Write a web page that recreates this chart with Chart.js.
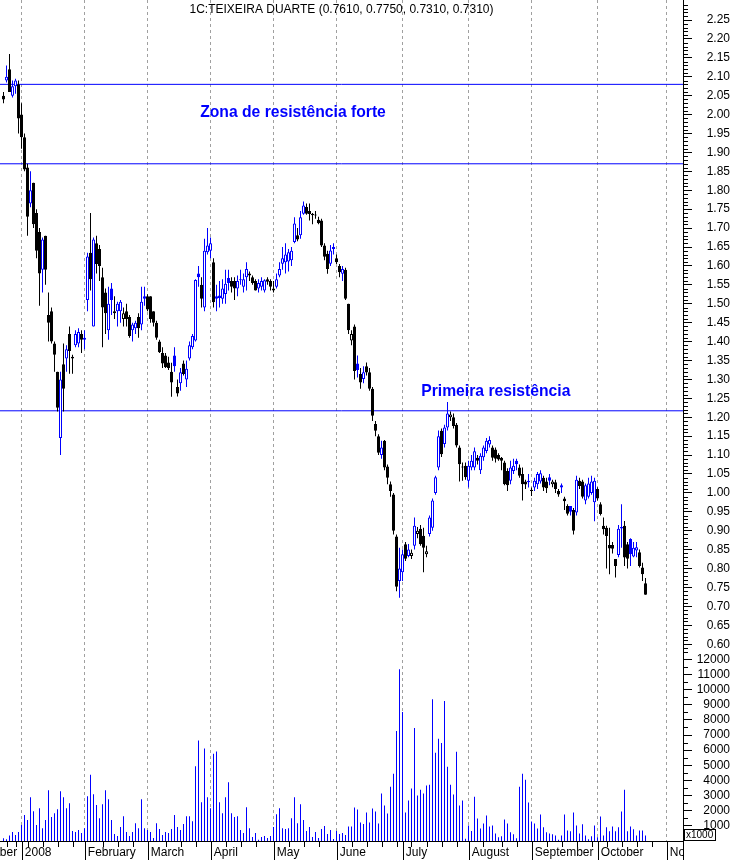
<!DOCTYPE html>
<html>
<head>
<meta charset="utf-8">
<title>1C:TEIXEIRA DUARTE</title>
<script src="https://cdn.jsdelivr.net/npm/chart.js@4.4.1/dist/chart.umd.min.js"></script>
<style>
  body { margin: 0; background: #fff; }
  #wrap { width: 733px; height: 860px; }
</style>
</head>
<body>
<div id="wrap"><canvas id="chart" width="733" height="860"></canvas></div>
<script>
// daily candles, Dec 2007 .. Oct 2008 (index = trading day)
const open = [
  2.05, 2.09, 2.12, 2.05, 2.075, 2.08, 2.00, 1.94, 1.86, 1.765,
  1.82, 1.74, 1.69, 1.59, 1.68, 1.47, 1.48, 1.395, 1.32, 1.145,
  1.34, 1.355, 1.42, 1.355, 1.39, 1.395, 1.42, 1.405, 1.51, 1.635,
  1.44, 1.66, 1.645, 1.57, 1.53, 1.43, 1.54, 1.48, 1.48, 1.48,
  1.46, 1.48, 1.465, 1.43, 1.435, 1.465, 1.445, 1.52, 1.52, 1.52,
  1.48, 1.45, 1.40, 1.37, 1.363, 1.345, 1.32, 1.363, 1.28, 1.29,
  1.342, 1.30, 1.355, 1.385, 1.403, 1.58, 1.55, 1.49, 1.636, 1.64,
  1.61, 1.52, 1.522, 1.513, 1.526, 1.568, 1.56, 1.56, 1.54, 1.565,
  1.545, 1.57, 1.58, 1.57, 1.56, 1.54, 1.545, 1.535, 1.565, 1.56,
  1.535, 1.545, 1.575, 1.606, 1.61, 1.612, 1.615, 1.663, 1.681, 1.681,
  1.738, 1.756, 1.745, 1.738, 1.736, 1.722, 1.72, 1.654, 1.632, 1.606,
  1.65, 1.62, 1.60, 1.579, 1.59, 1.50, 1.403, 1.44, 1.342, 1.314,
  1.301, 1.335, 1.319, 1.275, 1.182, 1.15, 1.10, 1.138, 1.07, 1.023,
  0.996, 0.885, 0.767, 0.79, 0.864, 0.833, 0.833, 0.86, 0.891, 0.905,
  0.887, 0.838, 0.891, 0.908, 1.00, 1.067, 1.164, 1.129, 1.173, 1.20,
  1.20, 1.18, 1.12, 1.07, 1.072, 1.032, 1.067, 1.067, 1.093, 1.06,
  1.094, 1.111, 1.128, 1.12, 1.115, 1.10, 1.093, 1.08, 1.058, 1.032,
  1.058, 1.085, 1.067, 1.05, 1.03, 1.028, 1.008, 1.014, 1.023, 1.03,
  1.04, 1.03, 1.041, 1.023, 1.028, 1.005, 1.02, 0.985, 0.965, 0.965,
  0.955, 0.948, 1.032, 1.03, 0.98, 0.99, 1.00, 0.975, 1.01, 0.97,
  0.913, 0.908, 0.862, 0.862, 0.825, 0.836, 0.906, 0.913, 0.864, 0.878,
  0.832, 0.848, 0.843, 0.803, 0.761
];
const high = [
  2.06, 2.13, 2.16, 2.09, 2.095, 2.09, 2.03, 1.95, 1.87, 1.85,
  1.82, 1.75, 1.70, 1.675, 1.68, 1.53, 1.49, 1.40, 1.32, 1.32,
  1.395, 1.39, 1.44, 1.365, 1.43, 1.435, 1.43, 1.43, 1.635, 1.74,
  1.675, 1.68, 1.655, 1.595, 1.54, 1.545, 1.555, 1.52, 1.505, 1.51,
  1.49, 1.50, 1.47, 1.45, 1.455, 1.475, 1.545, 1.545, 1.525, 1.52,
  1.48, 1.455, 1.405, 1.385, 1.37, 1.36, 1.344, 1.385, 1.30, 1.33,
  1.35, 1.35, 1.40, 1.42, 1.565, 1.60, 1.57, 1.672, 1.70, 1.675,
  1.62, 1.55, 1.56, 1.565, 1.59, 1.59, 1.57, 1.57, 1.575, 1.59,
  1.58, 1.61, 1.585, 1.575, 1.565, 1.565, 1.57, 1.565, 1.57, 1.565,
  1.56, 1.58, 1.61, 1.65, 1.66, 1.645, 1.65, 1.729, 1.70, 1.745,
  1.77, 1.765, 1.765, 1.74, 1.745, 1.73, 1.725, 1.66, 1.64, 1.655,
  1.66, 1.63, 1.605, 1.60, 1.595, 1.50, 1.43, 1.445, 1.363, 1.33,
  1.335, 1.345, 1.33, 1.28, 1.19, 1.155, 1.138, 1.14, 1.075, 1.03,
  1.00, 0.89, 0.855, 0.85, 0.87, 0.865, 0.85, 0.935, 0.91, 0.915,
  0.908, 0.86, 0.94, 0.985, 1.045, 1.165, 1.17, 1.18, 1.24, 1.215,
  1.21, 1.185, 1.125, 1.08, 1.08, 1.085, 1.10, 1.12, 1.10, 1.105,
  1.125, 1.145, 1.15, 1.125, 1.12, 1.105, 1.095, 1.085, 1.065, 1.085,
  1.09, 1.09, 1.075, 1.067, 1.035, 1.05, 1.014, 1.04, 1.055, 1.06,
  1.045, 1.04, 1.05, 1.035, 1.035, 1.01, 1.025, 0.99, 0.97, 0.965,
  0.96, 1.045, 1.04, 1.035, 1.025, 1.04, 1.045, 1.04, 1.015, 0.975,
  0.935, 0.913, 0.908, 0.87, 0.825, 0.915, 0.97, 0.926, 0.87, 0.88,
  0.87, 0.87, 0.85, 0.815, 0.775
];
const low = [
  2.03, 2.085, 2.06, 2.045, 2.055, 1.95, 1.91, 1.85, 1.68, 1.755,
  1.70, 1.62, 1.495, 1.53, 1.55, 1.40, 1.395, 1.32, 1.215, 1.10,
  1.215, 1.32, 1.315, 1.315, 1.385, 1.385, 1.37, 1.38, 1.48, 1.535,
  1.44, 1.58, 1.56, 1.385, 1.42, 1.405, 1.47, 1.46, 1.44, 1.45,
  1.44, 1.44, 1.41, 1.40, 1.42, 1.41, 1.43, 1.495, 1.48, 1.45,
  1.44, 1.405, 1.37, 1.33, 1.33, 1.325, 1.254, 1.32, 1.255, 1.27,
  1.31, 1.28, 1.35, 1.38, 1.40, 1.545, 1.49, 1.48, 1.63, 1.62,
  1.49, 1.48, 1.49, 1.50, 1.50, 1.535, 1.53, 1.51, 1.52, 1.55,
  1.53, 1.535, 1.56, 1.55, 1.535, 1.53, 1.535, 1.53, 1.55, 1.535,
  1.53, 1.54, 1.57, 1.59, 1.58, 1.585, 1.60, 1.66, 1.665, 1.672,
  1.735, 1.735, 1.72, 1.71, 1.725, 1.71, 1.65, 1.615, 1.579, 1.60,
  1.63, 1.605, 1.57, 1.56, 1.51, 1.42, 1.39, 1.30, 1.305, 1.275,
  1.29, 1.31, 1.27, 1.19, 1.15, 1.10, 1.09, 1.06, 1.023, 0.99,
  0.89, 0.74, 0.723, 0.767, 0.82, 0.83, 0.825, 0.85, 0.88, 0.86,
  0.79, 0.83, 0.885, 0.90, 0.995, 1.06, 1.095, 1.12, 1.165, 1.19,
  1.17, 1.12, 1.03, 1.032, 1.035, 1.014, 1.06, 1.06, 1.075, 1.05,
  1.085, 1.105, 1.12, 1.085, 1.08, 1.085, 1.06, 1.02, 1.005, 1.023,
  1.05, 1.06, 1.04, 0.98, 1.01, 1.014, 0.992, 1.005, 1.01, 1.025,
  1.005, 1.00, 1.02, 1.015, 1.00, 0.99, 1.00, 0.955, 0.94, 0.94,
  0.89, 0.94, 1.01, 0.985, 0.97, 0.985, 0.995, 0.925, 0.98, 0.94,
  0.89, 0.80, 0.785, 0.84, 0.776, 0.83, 0.855, 0.807, 0.80, 0.807,
  0.83, 0.83, 0.803, 0.767, 0.731
];
const close = [
  2.04, 2.10, 2.06, 2.075, 2.09, 1.99, 1.94, 1.855, 1.73, 1.80,
  1.71, 1.64, 1.58, 1.67, 1.59, 1.45, 1.40, 1.365, 1.225, 1.30,
  1.275, 1.38, 1.375, 1.36, 1.42, 1.425, 1.405, 1.41, 1.625, 1.565,
  1.67, 1.605, 1.60, 1.49, 1.475, 1.50, 1.51, 1.475, 1.50, 1.505,
  1.475, 1.46, 1.415, 1.445, 1.45, 1.435, 1.505, 1.513, 1.485, 1.46,
  1.45, 1.41, 1.372, 1.342, 1.332, 1.33, 1.292, 1.335, 1.263, 1.319,
  1.314, 1.328, 1.39, 1.415, 1.563, 1.57, 1.513, 1.64, 1.654, 1.66,
  1.504, 1.513, 1.515, 1.54, 1.553, 1.555, 1.545, 1.54, 1.56, 1.562,
  1.565, 1.592, 1.575, 1.555, 1.535, 1.555, 1.56, 1.562, 1.558, 1.545,
  1.54, 1.565, 1.592, 1.62, 1.63, 1.636, 1.64, 1.712, 1.67, 1.729,
  1.76, 1.738, 1.737, 1.734, 1.733, 1.713, 1.654, 1.624, 1.592, 1.641,
  1.645, 1.61, 1.583, 1.592, 1.513, 1.43, 1.42, 1.322, 1.325, 1.292,
  1.319, 1.318, 1.275, 1.204, 1.164, 1.106, 1.12, 1.067, 1.04, 1.005,
  0.90, 0.752, 0.80, 0.838, 0.826, 0.85, 0.842, 0.913, 0.90, 0.864,
  0.855, 0.846, 0.935, 0.98, 1.041, 1.15, 1.102, 1.173, 1.21, 1.207,
  1.177, 1.125, 1.076, 1.067, 1.041, 1.072, 1.085, 1.11, 1.085, 1.098,
  1.12, 1.138, 1.14, 1.093, 1.09, 1.088, 1.085, 1.023, 1.02, 1.067,
  1.072, 1.076, 1.045, 1.023, 1.022, 1.032, 1.005, 1.032, 1.05, 1.052,
  1.014, 1.012, 1.032, 1.03, 1.01, 0.996, 1.014, 0.978, 0.945, 0.95,
  0.90, 1.035, 1.018, 0.99, 1.02, 1.025, 1.03, 1.032, 0.985, 0.944,
  0.904, 0.886, 0.853, 0.852, 0.807, 0.905, 0.91, 0.829, 0.826, 0.838,
  0.855, 0.856, 0.807, 0.785, 0.731
];
// volume, in thousands of shares
const volume = [
  175, 110, 370, 590, 390, 590, 1050, 1710, 1380, 2890,
  1970, 1050, 2170, 850, 1380, 3350, 1580, 1840, 2100, 3290,
  2890, 2170, 2500, 660, 590, 720, 530, 850, 2960, 4380,
  3090, 2370, 1510, 2430, 3350, 2760, 1380, 460, 330, 920,
  1640, 590, 330, 590, 1180, 850, 2760, 850, 720, 590,
  200, 1180, 790, 390, 590, 530, 790, 1710, 920, 720,
  1120, 1640, 1640, 1310, 4930, 6640, 2560, 6110, 2890, 2170,
  5760, 5910, 2560, 1840, 2890, 3880, 1840, 1580, 1640, 720,
  530, 2230, 850, 260, 530, 80, 260, 330, 200, 330,
  920, 1770, 2170, 850, 790, 850, 1510, 2890, 1180, 2430,
  1380, 660, 920, 260, 590, 200, 790, 990, 460, 720,
  130, 660, 460, 530, 390, 960, 960, 2210, 2080, 1230,
  1120, 1880, 1230, 2150, 1950, 1160, 3130, 2340, 1820, 3590,
  4450, 7270, 11340, 8520, 1880, 2670, 3460, 7470, 3000, 3390,
  3130, 3660, 3720, 9370, 5830, 6750, 6480, 9240, 4910, 3720,
  3070, 5890, 2340, 2670, 150, 1030, 660, 2930, 1490, 830,
  1160, 1690, 960, 1030, 500, 240, 310, 1420, 1160, 570,
  440, 175, 3590, 4450, 4050, 2540, 1290, 1160, 830, 1750,
  900, 570, 500, 440, 370, 80, 370, 1750, 700, 640,
  1880, 1030, 500, 1100, 370, 110, 310, 1030, 240, 1620,
  370, 900, 640, 960, 640, 900, 1950, 3390, 640, 960,
  770, 370, 700, 700, 370
];

// axis labels: month name and the index of its first trading day
const monthLabels = ['December', '2008', 'February', 'March', 'April', 'May', 'June',
  'July', 'August', 'September', 'October', 'November'];
const monthStarts = [-15, 6, 27, 48, 69, 90, 111, 133, 155, 176, 198, 221];
const weekTicks = [1, 4, 8, 13, 18, 23, 33, 38, 43, 54, 59, 64, 74, 79, 84, 95, 100, 105,
  116, 121, 126, 131, 136, 141, 146, 151, 160, 166, 171, 181, 186, 191, 196, 201, 206, 211, 216];

const resistanceLevels = [2.08, 1.87, 1.217];
const notes = [
  { text: 'Zona de resistência forte', x: 96.5, y: 2.004 },
  { text: 'Primeira resistência', x: 164.1, y: 1.2675 }
];

// 3 px per trading day across a 683 px wide plot
const xMin = -7 / 6, xMax = xMin + 683 / 3;
const BLUE = '#0000ff';
const FONT = "'Liberation Sans', Arial, sans-serif";
const n = close.length;

Chart.defaults.font.family = FONT;
Chart.defaults.font.size = 12;
Chart.defaults.color = '#000';

// blue when the close is up on the day before, hollow when close > open
const candleColor = close.map((c, i) => (i > 0 && c >= close[i - 1]) ? BLUE : '#000');
const hollow = close.map((c, i) => c > open[i]);

const title = '1C:TEIXEIRA DUARTE (' + [open[n - 1], high[n - 1], low[n - 1], close[n - 1]]
  .map(v => v.toFixed(4)).join(', ') + ')';

const extras = {
  id: 'extras',
  afterDraw(chart) {
    const { ctx, chartArea, scales } = chart;
    const { x, y, yv } = scales;
    const right = chartArea.right, bottom = chartArea.bottom;
    ctx.save();

    // hide the month label running past the right axis
    ctx.fillStyle = '#fff';
    ctx.fillRect(right + 1, bottom + 1, chart.width - right, chart.height - bottom);

    ctx.strokeStyle = '#000';
    ctx.lineWidth = 1;
    ctx.beginPath();
    // minor ticks on the price axis
    for (let k = 59; k <= 230; k++) {
      if (k % 5 === 0) continue;
      const py = Math.round(y.getPixelForValue(k / 100)) + 0.5;
      ctx.moveTo(right, py); ctx.lineTo(right + 5, py);
    }
    // minor ticks on the volume axis
    for (let v = 500; v <= 12500; v += 1000) {
      const py = Math.round(yv.getPixelForValue(v)) + 0.5;
      ctx.moveTo(right, py); ctx.lineTo(right + 5, py);
    }
    // month separators and weekly ticks under the time axis
    monthStarts.forEach(m => {
      const px = Math.round(x.getPixelForValue(m)) + 0.5;
      ctx.moveTo(px, bottom); ctx.lineTo(px, chart.height);
    });
    weekTicks.forEach(w => {
      const px = Math.round(x.getPixelForValue(w)) + 0.5;
      ctx.moveTo(px, bottom); ctx.lineTo(px, bottom + 6);
    });
    ctx.moveTo(right + 0.5, bottom); ctx.lineTo(right + 0.5, chart.height);
    ctx.stroke();

    // x1000 box on the volume axis
    ctx.fillStyle = '#fff';
    ctx.fillRect(right + 1.5, bottom - 11.5, 31, 11);
    ctx.strokeRect(right + 1.5, bottom - 11.5, 31, 11);
    ctx.fillStyle = '#000';
    ctx.font = '10px ' + FONT;
    ctx.textAlign = 'left';
    ctx.textBaseline = 'middle';
    ctx.fillText('x1000', right + 3, bottom - 6);

    // title
    ctx.font = '12px ' + FONT;
    ctx.textAlign = 'center';
    ctx.fillText(title, (chartArea.left + right) / 2, 10);

    // notes
    ctx.fillStyle = BLUE;
    ctx.font = 'bold 15.7px ' + FONT;
    notes.forEach(nt => {
      ctx.fillText(nt.text, x.getPixelForValue(nt.x), y.getPixelForValue(nt.y));
    });
    ctx.restore();
  }
};

const datasets = [
  {
    type: 'bar', label: 'body', yAxisID: 'y', order: 0,
    data: open.map((o, i) => ({ x: i, y: [o, close[i]] })),
    backgroundColor: hollow.map((h, i) => h ? '#fff' : candleColor[i]),
    borderColor: candleColor,
    borderWidth: 1, borderSkipped: false, barThickness: 3, minBarLength: 1,
    grouped: false, inflateAmount: 0
  },
  {
    type: 'bar', label: 'range', yAxisID: 'y', order: 1,
    data: low.map((l, i) => ({ x: i, y: [l, high[i]] })),
    backgroundColor: candleColor,
    borderWidth: 0, barThickness: 1, grouped: false, inflateAmount: 0
  },
  {
    type: 'bar', label: 'volume', yAxisID: 'yv', order: 2,
    data: volume.map((v, i) => ({ x: i, y: v })),
    backgroundColor: BLUE,
    borderWidth: 0, barThickness: 1, grouped: false, inflateAmount: 0
  }
].concat(resistanceLevels.map(level => ({
  type: 'line', label: 'r' + level, yAxisID: 'y', order: 3,
  data: [{ x: xMin, y: level }, { x: xMax, y: level }],
  borderColor: BLUE, borderWidth: 1, pointRadius: 0
})));

new Chart(document.getElementById('chart'), {
  type: 'bar',
  data: { datasets },
  options: {
    responsive: false,
    animation: false,
    devicePixelRatio: 1,
    layout: { padding: { left: 0, top: 0, right: 3, bottom: 0 } },
    plugins: { legend: { display: false }, tooltip: { enabled: false }, title: { display: false } },
    scales: {
      x: {
        type: 'linear', min: xMin, max: xMax, offset: false,
        afterBuildTicks: s => { s.ticks = monthStarts.map(v => ({ value: v })); },
        afterFit: s => { s.height = 19; s.paddingLeft = 0; s.paddingRight = 0; },
        grid: { offset: false, color: '#a0a0a0', drawTicks: false, tickLength: 0 },
        border: { display: true, color: '#000', width: 1, dash: [3, 3] },
        ticks: {
          autoSkip: false, maxRotation: 0, align: 'start', padding: 4,
          callback: (v, i) => ' ' + monthLabels[i]
        }
      },
      y: {
        type: 'linear', position: 'right', stack: 'panes', stackWeight: 651,
        min: 0.582, max: 2.303,
        afterBuildTicks: s => {
          const t = [];
          for (let k = 12; k <= 45; k++) t.push({ value: k * 0.05 });
          s.ticks = t;
        },
        afterFit: s => { s.width = 47; s.paddingTop = 0; s.paddingBottom = 0; },
        grid: { drawOnChartArea: false, tickLength: 9, tickColor: '#000' },
        border: { color: '#000' },
        ticks: { autoSkip: false, crossAlign: 'far', callback: v => v.toFixed(2) }
      },
      yv: {
        type: 'linear', position: 'right', stack: 'panes', stackWeight: 190,
        min: 0, max: 12550,
        afterBuildTicks: s => {
          const t = [];
          for (let v = 1000; v <= 12000; v += 1000) t.push({ value: v });
          s.ticks = t;
        },
        afterFit: s => { s.width = 47; s.paddingTop = 0; s.paddingBottom = 0; },
        grid: { drawOnChartArea: false, tickLength: 9, tickColor: '#000' },
        border: { color: '#000' },
        ticks: { autoSkip: false, crossAlign: 'far', callback: v => String(v) }
      }
    }
  },
  plugins: [extras]
});
</script>
</body>
</html>
